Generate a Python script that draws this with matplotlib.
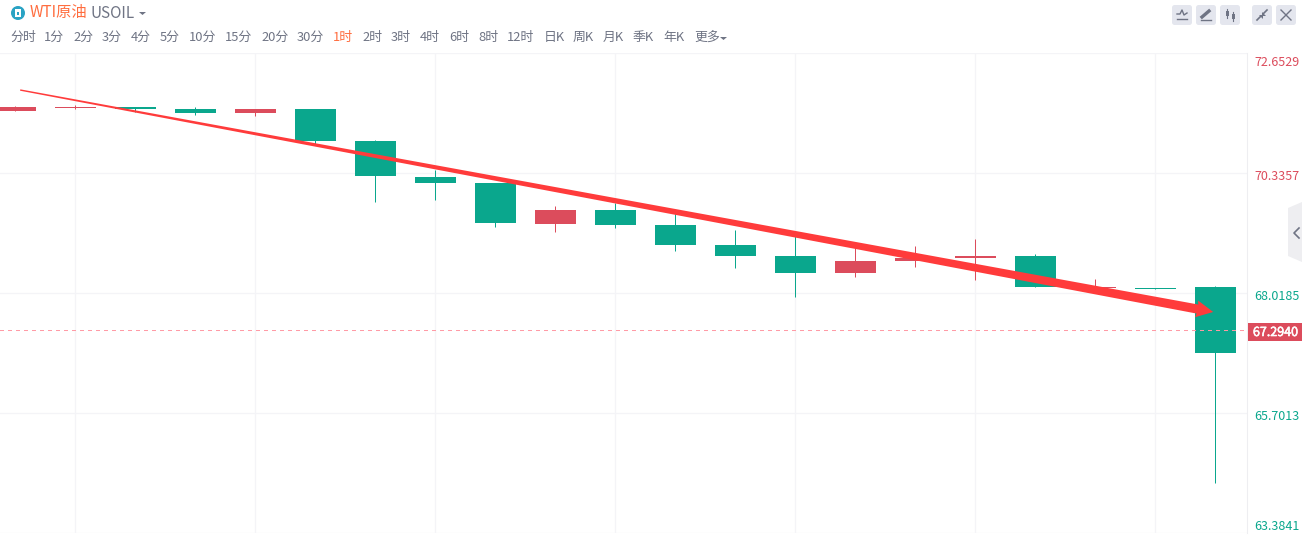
#!/usr/bin/env python3
"""WTI crude 1h candlestick screenshot, redrawn with matplotlib."""

import numpy as np
import matplotlib
matplotlib.use('Agg')
import matplotlib.pyplot as plt
import matplotlib.patheffects as pe
from matplotlib.patches import Circle, FancyBboxPatch, Polygon, Rectangle

plt.rcParams['font.family'] = ['Noto Sans CJK SC', 'DejaVu Sans']

# candle data
opens = [71.533, 71.591, 71.610, 71.572, 71.494, 71.572, 70.954, 70.258, 70.143, 69.351, 69.621,
         69.332, 68.945, 68.733, 68.405, 68.636, 68.694, 68.733, 68.115, 68.115, 68.134]
closes = [71.610, 71.610, 71.572, 71.494, 71.572, 70.954, 70.278, 70.143, 69.370, 69.621, 69.332,
          68.945, 68.733, 68.405, 68.636, 68.694, 68.733, 68.134, 68.134, 68.096, 66.860]
highs = [71.630, 71.649, 71.610, 71.610, 71.572, 71.572, 70.973, 70.394, 70.143, 69.698, 69.756,
         69.563, 69.235, 69.138, 68.907, 68.926, 69.061, 68.772, 68.289, 68.115, 68.154]
lows = [71.533, 71.572, 71.514, 71.456, 71.436, 70.876, 69.776, 69.814, 69.293, 69.196, 69.274,
        68.829, 68.501, 67.941, 68.327, 68.520, 68.269, 68.134, 68.096, 68.096, 64.350]

price_ticks = [72.6529, 70.3357, 68.0185, 65.7013, 63.3841]
tick_colors = ['#dc4c5c', '#dc4c5c', '#0aa78d', '#0aa78d', '#0aa78d']
tick_offsets = [9.5, 3.5, 3.5, 4, -6.5]  # label shift from the gridline, px
last_price = 67.2940

# index, price at the two ends of the drawn trend arrow
trend_x = [0.083, 19.967]
trend_y = [71.938, 67.652]

period_tabs = ['分时', '1分', '2分', '3分', '4分', '5分', '10分', '15分', '20分', '30分', '1时', '2时',
               '3时', '4时', '6时', '8时', '12时', '日K', '周K', '月K', '季K', '年K', '更多']
tab_lefts = [10, 44, 73, 102, 131, 160, 189, 225, 261, 297, 333, 362,
             391, 420, 449, 478, 507, 544, 573, 603, 633, 663, 694]

GREEN = '#0aa78d'
RED = '#dc4c5c'
ORANGE = '#ff6d3f'
GRAY = '#6f7484'
GRID = '#f4f4f7'
W, H = 1302, 554
PLOT_R, PLOT_T, PLOT_B = 1247, 53, 533


def price_to_px(price):
    span = price_ticks[0] - price_ticks[-1]
    return PLOT_T + (price_ticks[0] - price) / span * (PLOT_B - PLOT_T)


def draw_candles(ax):
    colors = [RED if c >= o else GREEN for o, c in zip(opens, closes)]
    x = np.arange(len(opens))
    bottoms = np.minimum(opens, closes)
    heights = np.abs(np.array(closes) - np.array(opens))
    ax.vlines(x, lows, highs, colors=colors, linewidth=0.72, zorder=3)
    ax.bar(x, heights, bottom=bottoms, width=41 / 60, color=colors, linewidth=0, zorder=4)


def draw_trend_arrow(ax):
    # tapered shaft, so build the outline in pixels and map back to data
    p0, p1 = ax.transData.transform(list(zip(trend_x, trend_y)))
    d = (p1 - p0) / np.linalg.norm(p1 - p0)
    n = np.array([-d[1], d[0]])
    neck = p1 - d * 16
    outline = [p0 + n * 0.7, neck + n * 4.6, neck + n * 8.5 - d * 1, p1,
               neck - n * 8.5 - d * 1, neck - n * 4.6, p0 - n * 0.7]
    pts = ax.transData.inverted().transform(outline)
    ax.add_patch(Polygon(pts, closed=True, facecolor='#ff3b3b', edgecolor='none', zorder=6))


def draw_price_axis(ax, ui):
    for price, color, off in zip(price_ticks, tick_colors, tick_offsets):
        ui.text(1254, price_to_px(price) + off, f'{price:.4f}', color=color, fontsize=9,
                va='center', ha='left')
    py = price_to_px(last_price)
    ui.add_patch(Rectangle((1248, py - 8), 54, 18, facecolor=RED, edgecolor='none'))
    tag = ui.text(1275.5, py + 2, f'{last_price:.4f}', color='white', fontsize=9, va='center', ha='center')
    tag.set_path_effects([pe.withStroke(linewidth=0.4, foreground='white')])
    line = ax.axhline(last_price, color='#ff9aa5', linewidth=0.72, linestyle=(0, (4, 4)), zorder=5)
    line.set_snap(False)


def draw_header(ui):
    ui.add_patch(Circle((18, 13), 7, facecolor='#2aa3c4', edgecolor='none'))
    ui.add_patch(Rectangle((15, 9), 6, 8, facecolor='white', edgecolor='none'))
    ui.add_patch(Rectangle((17, 11.5), 2, 3, facecolor='#2aa3c4', edgecolor='none'))
    ui.text(30, 13, 'WTI原油', color=ORANGE, fontsize=11, va='center')
    ui.text(91, 13, 'USOIL', color=GRAY, fontsize=11, va='center')
    ui.add_patch(Polygon([(139, 12), (146, 12), (142.5, 15)], facecolor=GRAY, edgecolor='none'))

    for label, left in zip(period_tabs, tab_lefts):
        color = ORANGE if label == '1时' else GRAY
        ui.text(left, 37, label, color=color, fontsize=9.3, va='center', ha='left')
    ui.add_patch(Polygon([(720, 37), (727, 37), (723.5, 40)], facecolor=GRAY, edgecolor='none'))


def draw_toolbar(ui):
    for left in [1172, 1196, 1220, 1252, 1276]:
        ui.add_patch(FancyBboxPatch((left + 2.5, 7.5), 15, 15, boxstyle='round,pad=0,rounding_size=0',
                                    facecolor='#e4e6ee', edgecolor='#e4e6ee', linewidth=3.6,
                                    joinstyle='round'))
    # line icon
    ui.plot([1177, 1180, 1182, 1184, 1187], [14, 14, 10, 15, 13], color=GRAY, lw=1)
    ui.plot([1177, 1187], [19, 19], color=GRAY, lw=1)
    # pencil
    ui.plot([1202, 1209], [17, 11], color=GRAY, lw=2.4)
    ui.plot([1201, 1211], [19.5, 19.5], color=GRAY, lw=1)
    # candles
    ui.plot([1227, 1227], [9, 18], color=GRAY, lw=0.8)
    ui.plot([1233, 1233], [12, 21], color=GRAY, lw=0.8)
    ui.add_patch(Rectangle((1225.5, 11), 3, 5, facecolor=GRAY, edgecolor='none'))
    ui.add_patch(Rectangle((1231.5, 14), 3, 5, facecolor=GRAY, edgecolor='none'))
    # shrink
    ui.plot([1257, 1261], [20, 16], color=GRAY, lw=1.2)
    ui.plot([1263, 1267], [14, 10], color=GRAY, lw=1.2)
    ui.add_patch(Polygon([(1258.5, 14.5), (1262.5, 14.5), (1262.5, 18.5)], facecolor=GRAY, edgecolor='none'))
    ui.add_patch(Polygon([(1261.5, 11.5), (1261.5, 15.5), (1265.5, 15.5)], facecolor=GRAY, edgecolor='none'))
    # close
    ui.plot([1281, 1291], [10, 20], color=GRAY, lw=1)
    ui.plot([1281, 1291], [20, 10], color=GRAY, lw=1)
    # collapse tab at the right edge
    ui.add_patch(Polygon([(1288, 208), (1302, 202), (1302, 262), (1288, 256)],
                         facecolor='#eeeef1', edgecolor='none'))
    ui.plot([1299, 1294, 1299], [228, 233, 238], color=GRAY, lw=1.2)


def main():
    fig = plt.figure(figsize=(W / 100, H / 100), dpi=100, facecolor='white')

    ax = fig.add_axes([0, (H - PLOT_B) / H, PLOT_R / W, (PLOT_B - PLOT_T) / H])
    # 15.2 rather than 15.5: snapping pushes 1px lines half a pixel to the right
    ax.set_xlim(-15.2 / 60, (PLOT_R - 15.2) / 60)
    ax.set_ylim(price_ticks[-1], price_ticks[0])
    ax.set_xticks(np.arange(1, 21, 3))
    ax.set_yticks(price_ticks)
    ax.tick_params(length=0, labelbottom=False, labelleft=False)
    ax.grid(True, color=GRID, linewidth=0.9)
    ax.set_axisbelow(True)
    for side in ['left', 'top', 'bottom']:
        ax.spines[side].set_visible(False)
    ax.spines['right'].set_color('#eeeef1')

    draw_candles(ax)
    draw_trend_arrow(ax)

    # overlay in screen pixels for the page furniture
    ui = fig.add_axes([0, 0, 1, 1], facecolor='none')
    ui.set_xlim(0, W)
    ui.set_ylim(H, 0)
    ui.axis('off')

    draw_price_axis(ax, ui)
    draw_header(ui)
    draw_toolbar(ui)

    fig.savefig('out.png', dpi=100)


if __name__ == "__main__":
    main()
